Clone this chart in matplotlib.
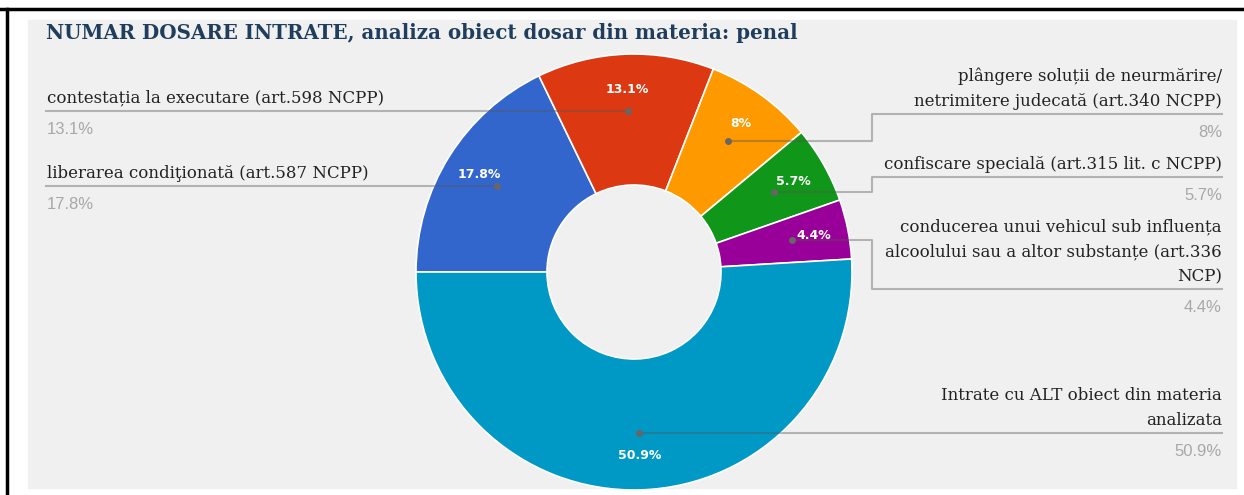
import numpy as np
import matplotlib.pyplot as plt
from matplotlib.patches import Rectangle
from matplotlib.lines import Line2D

# --- data ---
labels = [
    "liberarea condiţionată (art.587 NCPP)",
    "contestația la executare (art.598 NCPP)",
    "plângere soluții de neurmărire/\nnetrimitere judecată (art.340 NCPP)",
    "confiscare specială (art.315 lit. c NCPP)",
    "conducerea unui vehicul sub influența\nalcoolului sau a altor substanțe (art.336\nNCP)",
    "Intrate cu ALT obiect din materia\nanalizata",
]
values = [17.8, 13.1, 8.0, 5.7, 4.4, 50.9]
sides = ["left", "left", "right", "right", "right", "right"]
colors = ["#3366cc", "#dc3912", "#ff9900", "#109618", "#990099", "#0099c6"]
title = "NUMAR DOSARE INTRATE, analiza obiect dosar din materia: penal"

# --- layout (pixels, y measured from the top) ---
W, H = 1244, 495
CX, CY, R, HOLE = 634, 272, 218, 87
# y of the horizontal leader under each right-hand label (None = same as dot)
label_line_y = [None, None, 114, 177, 289, None]
LEFT_X, RIGHT_X, ELBOW_X = 46, 1222, 872


def py(y):
    return H - y


fig = plt.figure(figsize=(W / 100, H / 100), dpi=100)
fig.patch.set_facecolor("white")
ax = fig.add_axes([0, 0, 1, 1])

ax.add_patch(Rectangle((28, py(488)), 1236 - 28, 488 - 20, color="#f0f0f0", zorder=0))

wedges, _ = ax.pie(values, colors=colors, startangle=180, counterclock=False,
                   center=(CX, py(CY)), radius=R,
                   wedgeprops=dict(width=R - HOLE, edgecolor="white", linewidth=1.2))

ax.set_xlim(0, W)
ax.set_ylim(0, H)
ax.set_aspect("equal")
ax.axis("off")

serif = "DejaVu Serif"
line_col = "#555555"

for i, w in enumerate(wedges):
    mid = np.deg2rad((w.theta1 + w.theta2) / 2)
    # percentage inside the wedge
    tx = CX + 0.84 * R * np.cos(mid)
    ty = py(CY) + 0.84 * R * np.sin(mid)
    ax.text(tx, ty, f"{values[i]:g}%", color="white", fontsize=9, fontweight="bold",
            ha="center", va="center", family="DejaVu Sans", zorder=5)

    # leader line
    dx = CX + 0.74 * R * np.cos(mid)
    dy = py(CY) + 0.74 * R * np.sin(mid)
    ax.plot([dx], [dy], "o", color="#666666", markersize=4, zorder=6)
    if sides[i] == "left":
        ly = dy
        ax.plot([dx, LEFT_X], [dy, ly], color=line_col, alpha=0.4, lw=1.5, zorder=4)
        tx0, ha = LEFT_X + 1, "left"
    else:
        ly = dy if label_line_y[i] is None else py(label_line_y[i])
        ax.plot([dx, ELBOW_X, ELBOW_X, RIGHT_X], [dy, dy, ly, ly],
                color=line_col, alpha=0.4, lw=1.5, zorder=4)
        tx0, ha = RIGHT_X, "right"

    lines = labels[i].split("\n")
    for k, s in enumerate(reversed(lines)):
        ax.text(tx0, ly + 8 + 25 * k, s, fontsize=12, family=serif, color="#222222",
                ha=ha, va="baseline")
    ax.text(tx0, ly - 23, f"{values[i]:g}%", fontsize=12, family="Liberation Sans",
            color="#a8a8a8", ha=ha, va="baseline")

ax.text(46, py(39), title, fontsize=14.3, fontweight="bold", family=serif,
        color="#1f3d5c", ha="left", va="baseline")

# black frame lines (top and left)
fig.add_artist(Line2D([0, 1], [1 - 9 / H, 1 - 9 / H], color="black", lw=2.5))
fig.add_artist(Line2D([7 / W, 7 / W], [0, 1 - 9 / H], color="black", lw=2.5))

fig.savefig("out.png", dpi=100)
